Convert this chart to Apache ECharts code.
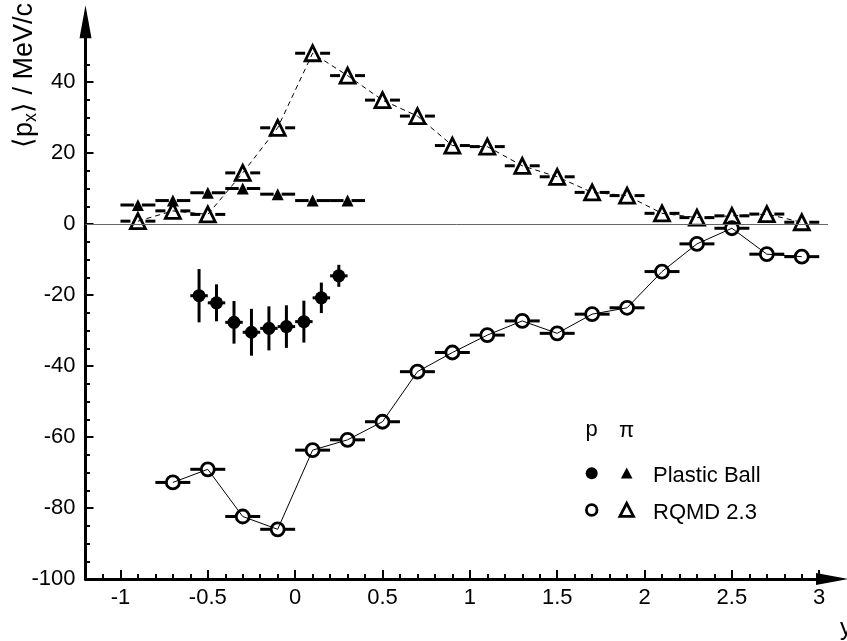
<!DOCTYPE html>
<html>
<head>
<meta charset="utf-8">
<script src="https://cdn.jsdelivr.net/npm/echarts@6/dist/echarts.min.js"></script>
<style>html,body{margin:0;padding:0;background:#fff;}#c{width:847px;height:641px;}</style>
</head>
<body>
<div id="c"></div>
<script>
// ---- data ----
const rqmdPiX = [-0.9,-0.7,-0.5,-0.3,-0.1,0.1,0.3,0.5,0.7,0.9,1.1,1.3,1.5,1.7,1.9,2.1,2.3,2.5,2.7,2.9];
const rqmdPiY = [0.8,3.7,2.7,14.4,27.1,48.1,41.8,34.9,30.4,22.1,21.8,16.4,13.3,8.9,8.0,3.0,1.8,2.3,2.8,0.5];
const rqmdPX = [-0.7,-0.5,-0.3,-0.1,0.1,0.3,0.5,0.7,0.9,1.1,1.3,1.5,1.7,1.9,2.1,2.3,2.5,2.7,2.9];
const rqmdPY = [-72.8,-69.1,-82.4,-86.0,-63.7,-60.8,-55.7,-41.6,-36.2,-31.3,-27.3,-30.8,-25.4,-23.6,-13.4,-5.6,-1.2,-8.5,-9.2];
const pbPiX = [-0.9,-0.7,-0.5,-0.3,-0.1,0.1,0.3];
const pbPiY = [5.35,6.6,8.8,10.0,8.4,6.6,6.6];
const pbPX = [-0.55,-0.45,-0.35,-0.25,-0.15,-0.05,0.05,0.15,0.25];
const pbPY = [-20.2,-22.2,-27.7,-30.5,-29.4,-28.9,-27.5,-20.8,-14.6];
const pbPErr = [7.5,5.2,6.0,6.6,6.2,6.0,5.9,4.3,3.1];
const rqmdHalfBin = 0.1;
const pbPiHalfBin = 0.1;
const pbPHalfBin = 0.05;

const xTickLabels = [-1,-0.5,0,0.5,1,1.5,2,2.5,3];
const xMinorTicks = [-1.1,-0.9,-0.8,-0.7,-0.6,-0.4,-0.3,-0.2,-0.1,0.1,0.2,0.3,0.4,0.6,0.7,0.8,0.9,1.1,1.2,1.3,1.4,1.6,1.7,1.8,1.9,2.1,2.2,2.3,2.4,2.6,2.7,2.8,2.9];
const yTickLabels = [-100,-80,-60,-40,-20,0,20,40];
const yMinorTicks = [-95,-90,-85,-75,-70,-65,-55,-50,-45,-35,-30,-25,-15,-10,-5,5,10,15,25,30,35,45];

// ---- layout ----
const X_MIN = -1.2, X_MAX = 3.05, Y_MIN = -100, Y_MAX = 57;
const PX_PER_X = 174.7, PX_PER_Y = 3.55;
const GRID_LEFT = 85.5, GRID_TOP = 224 - Y_MAX * PX_PER_Y;
const FONT = '"Liberation Sans", Arial, sans-serif';

const zip3 = (a, b, c) => a.map((v, i) => [v, b[i], typeof c === 'number' ? c : c[i]]);

function hBars(gap) {
  return function (params, api) {
    const x = api.value(0), y = api.value(1), hw = api.value(2);
    const c = api.coord([x, y]);
    const l = api.coord([x - hw, y]);
    const r = api.coord([x + hw, y]);
    const st = { stroke: '#000', lineWidth: 3 };
    const ch = [];
    if (c[0] - gap > l[0]) ch.push({ type: 'line', shape: { x1: l[0], y1: c[1], x2: c[0] - gap, y2: c[1] }, style: st });
    if (r[0] > c[0] + gap) ch.push({ type: 'line', shape: { x1: c[0] + gap, y1: c[1], x2: r[0], y2: c[1] }, style: st });
    return { type: 'group', children: ch };
  };
}
function vBars(params, api) {
  const x = api.value(0), y = api.value(1), e = api.value(2);
  const t = api.coord([x, y + e]);
  const b = api.coord([x, y - e]);
  return { type: 'line', shape: { x1: t[0], y1: t[1], x2: b[0], y2: b[1] }, style: { stroke: '#000', lineWidth: 3 } };
}

const axisLabelStyle = { color: '#000', fontFamily: FONT, fontSize: 22 };

const chart = echarts.init(document.getElementById('c'), null, { renderer: 'canvas' });
chart.setOption({
  animation: false,
  backgroundColor: '#fff',
  grid: { left: GRID_LEFT, top: GRID_TOP, width: (X_MAX - X_MIN) * PX_PER_X, height: (Y_MAX - Y_MIN) * PX_PER_Y, containLabel: false },
  xAxis: [
    {
      type: 'value', min: X_MIN, max: X_MAX,
      axisLine: { show: true, onZero: false, lineStyle: { color: '#000', width: 3 }, symbol: ['none', 'triangle'], symbolSize: [12, 32], symbolOffset: [0, 4] },
      axisTick: { show: true, inside: true, length: 9, lineStyle: { color: '#000', width: 2 }, customValues: xTickLabels },
      axisLabel: Object.assign({ margin: 8, customValues: xTickLabels }, axisLabelStyle),
      splitLine: { show: false }
    },
    {
      type: 'value', min: X_MIN, max: X_MAX, position: 'bottom',
      axisLine: { show: false, onZero: false },
      axisTick: { show: true, inside: true, length: 5, lineStyle: { color: '#000', width: 2 }, customValues: xMinorTicks },
      axisLabel: { show: false },
      splitLine: { show: false }
    }
  ],
  yAxis: [
    {
      type: 'value', min: Y_MIN, max: Y_MAX,
      axisLine: { show: true, onZero: false, lineStyle: { color: '#000', width: 3 }, symbol: ['none', 'triangle'], symbolSize: [12, 33], symbolOffset: [0, 0] },
      axisTick: { show: true, inside: true, length: 8, lineStyle: { color: '#000', width: 2 }, customValues: yTickLabels },
      axisLabel: Object.assign({ margin: 10, customValues: yTickLabels }, axisLabelStyle),
      splitLine: { show: false }
    },
    {
      type: 'value', min: Y_MIN, max: Y_MAX, position: 'left',
      axisLine: { show: false, onZero: false },
      axisTick: { show: true, inside: true, length: 4.5, lineStyle: { color: '#000', width: 2 }, customValues: yMinorTicks },
      axisLabel: { show: false },
      splitLine: { show: false }
    }
  ],
  series: [
    {
      type: 'custom', name: 'rqmdPiBars', renderItem: hBars(7.5), data: zip3(rqmdPiX, rqmdPiY, rqmdHalfBin), z: 2,
      encode: { x: 0, y: 1 },
      markLine: { silent: true, symbol: ['none', 'none'], label: { show: false }, lineStyle: { color: '#666', width: 1, type: 'solid' }, data: [{ yAxis: 0 }] }
    },
    { type: 'custom', name: 'rqmdPBars', renderItem: hBars(6.5), data: zip3(rqmdPX, rqmdPY, rqmdHalfBin), z: 2, encode: { x: 0, y: 1 } },
    { type: 'custom', name: 'pbPiBars', renderItem: hBars(4), data: zip3(pbPiX, pbPiY, pbPiHalfBin), z: 2, encode: { x: 0, y: 1 } },
    { type: 'custom', name: 'pbPHBars', renderItem: hBars(0), data: zip3(pbPX, pbPY, pbPHalfBin), z: 2, encode: { x: 0, y: 1 } },
    { type: 'custom', name: 'pbPVBars', renderItem: vBars, data: zip3(pbPX, pbPY, pbPErr), z: 2, encode: { x: 0, y: 1 } },
    {
      type: 'line', name: 'RQMD pi', data: rqmdPiX.map((x, i) => [x, rqmdPiY[i]]), z: 3,
      symbol: 'triangle', symbolSize: 15, showAllSymbol: true,
      itemStyle: { color: 'rgba(0,0,0,0)', borderColor: '#000', borderWidth: 2.8 },
      lineStyle: { color: '#000', width: 1, type: [5, 4] }
    },
    {
      type: 'line', name: 'RQMD p', data: rqmdPX.map((x, i) => [x, rqmdPY[i]]), z: 3,
      symbol: 'circle', symbolSize: 13, showAllSymbol: true,
      itemStyle: { color: 'rgba(0,0,0,0)', borderColor: '#000', borderWidth: 2.8 },
      lineStyle: { color: '#000', width: 1 }
    },
    {
      type: 'scatter', name: 'Plastic Ball pi', data: pbPiX.map((x, i) => [x, pbPiY[i]]), z: 3,
      symbol: 'triangle', symbolSize: 12, itemStyle: { color: '#000', opacity: 1 }
    },
    {
      type: 'scatter', name: 'Plastic Ball p', data: pbPX.map((x, i) => [x, pbPY[i]]), z: 3,
      symbol: 'circle', symbolSize: 13, itemStyle: { color: '#000', opacity: 1 }
    }
  ],
  graphic: [
    {
      type: 'text', x: 25, y: 3, rotation: Math.PI / 2,
      style: {
        text: '{a|⟨p}{s|x}{a|⟩ / MeV/c}', align: 'right', verticalAlign: 'middle',
        rich: {
          a: { fontFamily: FONT, fontSize: 27, fill: '#000', lineHeight: 29 },
          s: { fontFamily: FONT, fontSize: 18, fill: '#000', lineHeight: 29, padding: [13, 0, 0, 0] }
        }
      }
    },
    { type: 'text', x: 840, y: 628, style: { text: 'y', fontFamily: FONT, fontSize: 24, fill: '#000', align: 'left', verticalAlign: 'middle' } },
    // legend
    { type: 'text', x: 591.5, y: 430, style: { text: 'p', fontFamily: FONT, fontSize: 22, fill: '#000', align: 'center', verticalAlign: 'middle' } },
    { type: 'text', x: 626.5, y: 430.5, style: { text: 'π', fontFamily: FONT, fontSize: 22, fill: '#000', align: 'center', verticalAlign: 'middle' } },
    { type: 'circle', shape: { cx: 591.7, cy: 473.3, r: 6 }, style: { fill: '#000' } },
    { type: 'polygon', shape: { points: [[626.7, 467.5], [632.5, 478.5], [620.9, 478.5]] }, style: { fill: '#000' } },
    { type: 'text', x: 653, y: 475.5, style: { text: 'Plastic Ball', fontFamily: FONT, fontSize: 22, fill: '#000', align: 'left', verticalAlign: 'middle' } },
    { type: 'circle', shape: { cx: 591.7, cy: 510, r: 5.3 }, style: { fill: 'none', stroke: '#000', lineWidth: 2.8 } },
    { type: 'polygon', shape: { points: [[626.7, 503.3], [633.5, 516.3], [619.9, 516.3]] }, style: { fill: 'none', stroke: '#000', lineWidth: 2.8 } },
    { type: 'text', x: 653, y: 512.5, style: { text: 'RQMD 2.3', fontFamily: FONT, fontSize: 22, fill: '#000', align: 'left', verticalAlign: 'middle' } }
  ]
});
</script>
</body>
</html>
